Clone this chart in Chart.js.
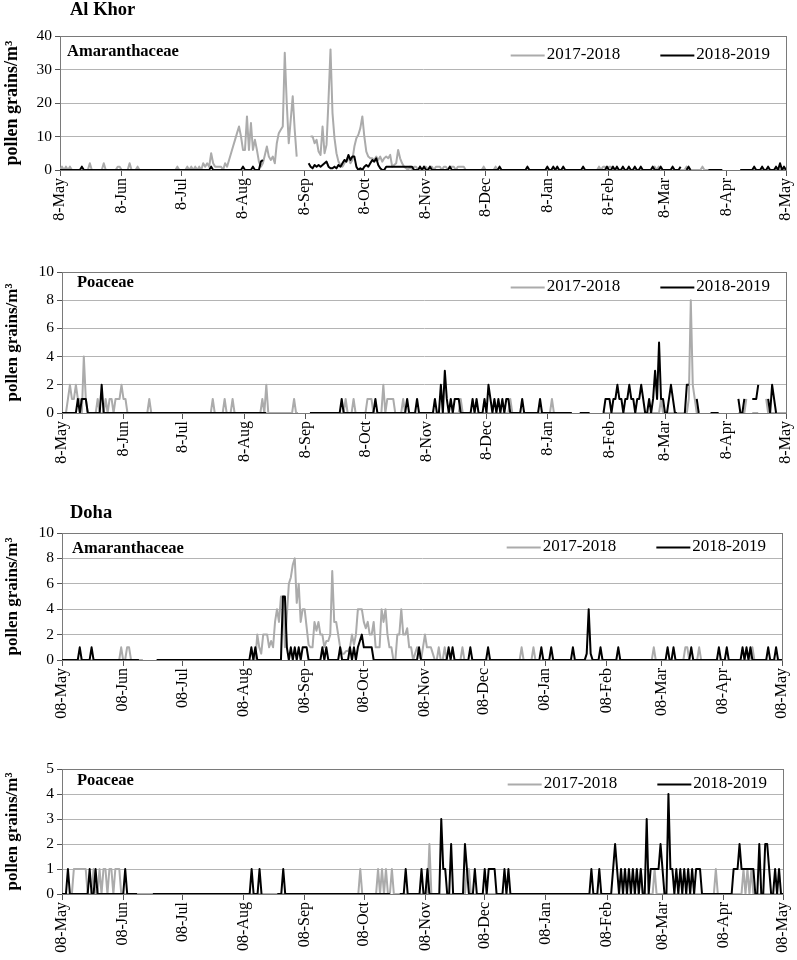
<!DOCTYPE html>
<html>
<head>
<meta charset="utf-8">
<script src="https://cdn.jsdelivr.net/npm/chart.js@4.4.1/dist/chart.umd.min.js"></script>
<style>
  body { margin: 0; background: #fff; }
  #wrap { position: relative; width: 797px; height: 960px; }
  canvas { position: absolute; left: 0; }
</style>
</head>
<body>
<div id="wrap">
  <canvas id="akAma" width="797" height="232" style="top:0px"></canvas>
  <canvas id="akPoa" width="797" height="240" style="top:230px"></canvas>
  <canvas id="dhAma" width="797" height="252" style="top:470px"></canvas>
  <canvas id="dhPoa" width="797" height="250" style="top:710px"></canvas>
</div>
<script>
// daily counts, day 0 = 8 May, day 365 = 8 May of the next year
const DAYS = 366;
const tickDays = [0, 31, 61, 92, 123, 153, 184, 214, 245, 276, 304, 335, 365];
const tickMonths = ["May", "Jun", "Jul", "Aug", "Sep", "Oct", "Nov", "Dec", "Jan", "Feb", "Mar", "Apr", "May"];
const seasons = ["2017-2018", "2018-2019"];

// runs: [firstDay, value, value, ...]; days not listed are 0; gaps: [fromDay, toDay] with no sample

// Al Khor - Amaranthaceae
const akAma17 = [[1, 1], [3, 1], [5, 1], [15, 2], [22, 2], [29, 1, 1], [35, 2], [39, 1], [59, 1],
  [64, 1, 0, 1, 0, 1, 0, 1, 0, 2, 1, 2, 1, 5, 2, 1, 1, 1, 1, 0, 2, 1, 3, 5, 7, 9, 11, 13, 10, 6, 6, 16, 6, 14, 6, 9, 6, 2.5, 1, 2, 4.5, 7, 4, 3, 4, 2, 8, 11, 12, 13, 35, 20, 8, 15, 22, 12, 4],
  [126, 10, 10, 8, 9, 5.5, 4.5, 13, 5, 7.5, 21, 36, 17, 9.5, 5, 2.5, 1.5, 1, 2, 3, 4, 2, 3, 7, 9.5, 10.5, 12.5, 16, 10, 5.5, 4, 3.5, 3.5, 3, 4, 3, 4, 2.5, 3.5, 4, 3.5, 4.5, 1, 1.5, 2, 6, 3.5, 2, 1, 0.5],
  [176, 1, 0, 1, 1, 0, 1, 0, 1, 1, 0, 1, 1, 0, 1, 1, 1, 0, 1, 1, 0, 1, 1, 1, 0, 1, 1, 1, 1, 0],
  [213, 1], [219, 1], [271, 1, 0, 1, 1, 0, 1, 1], [299, 1, 0, 1], [315, 1], [323, 1]];
const akAma17Gaps = [[120, 125], [330, 341]];
const akAma18 = [[11, 1], [76, 1], [92, 1], [97, 1], [101, 2.5, 3],
  [125, 2, 1, 0.5, 1.5, 1, 1.5, 1, 1.5, 2, 2.5, 1, 0.5, 0.5, 1, 0.5, 1.5, 1, 2, 3, 2.5, 4.5, 3, 4, 4, 1, 0, 0.5, 0, 1, 1.5, 1, 2, 3, 2.5, 3.5, 1.5, 0.5],
  [164, 1, 1, 1, 1, 1, 1, 1, 1, 1, 1, 1, 1, 1, 1],
  [181, 1], [183, 1], [186, 1], [196, 1], [221, 1], [235, 1], [245, 1], [248, 1], [250, 1], [253, 1], [263, 1],
  [275, 1], [278, 1], [280, 1], [283, 1], [286, 1], [289, 1], [292, 1], [298, 1], [302, 1], [308, 1], [312, 1], [316, 1],
  [349, 1], [353, 1], [356, 1], [360, 1], [362, 2], [364, 1]];
const akAma18Gaps = [[103, 124], [313, 314], [318, 321], [323, 325], [334, 341]];

// Al Khor - Poaceae
const akPoa17 = [[3, 1, 2, 1, 1, 2, 1, 1, 0, 4, 1], [18, 1], [22, 1, 0, 1, 1, 0, 1, 1, 1, 2, 1, 1], [44, 1], [76, 1], [82, 1], [86, 1],
  [101, 1, 0, 2], [117, 1], [143, 1], [147, 1], [154, 1, 1, 1], [162, 2], [164, 1, 1, 1, 1], [172, 1], [201, 1], [226, 1], [247, 1],
  [302, 1], [316, 1, 8, 2, 1], [345, 1], [355, 1]];
const akPoa17Gaps = [[120, 125], [258, 272], [322, 326], [332, 340], [346, 347], [352, 354]];
const akPoa18 = [[8, 1, 0, 1, 1, 1], [20, 2], [141, 1], [158, 1], [174, 1], [179, 1],
  [188, 1, 0, 0, 2, 0, 3, 1, 0, 1, 0, 1, 1, 1], [207, 1, 0, 1], [213, 1, 0, 2, 1, 0, 1, 0, 1, 0, 1, 0, 1, 1], [232, 1], [241, 1],
  [273, 0, 1, 1, 1, 0, 1, 1, 2, 1, 1, 0, 1, 1, 2, 1, 1, 0, 1, 1, 2, 1, 0, 0, 1, 0, 1, 3, 1, 5, 1, 1, 0, 0, 1, 2, 1, 0, 0],
  [314, 0, 2, 2], [320, 1], [341, 1, 0, 0, 1], [348, 1, 1, 1, 2], [356, 1, 0, 2, 1, 0]];
const akPoa18Gaps = [[104, 124], [258, 260], [267, 272], [311, 313], [317, 319], [322, 326], [332, 340], [345, 347], [352, 355], [361, 365]];

// Doha - Amaranthaceae
const dhAma17 = [[30, 1], [33, 1, 1],
  [99, 2, 1, 0.5, 2, 2, 2, 1, 1.5, 1, 3, 4, 3, 5, 5, 1, 3.5, 6, 6.5, 7.5, 8, 4.5, 6, 3, 4, 4, 2.6, 1.2, 1, 1, 3, 2.3, 3, 2, 2, 1, 1.5, 1.5, 2, 7, 3, 3, 2, 1, 0.5, 0.5, 0.7, 0.7, 1, 2, 1.2, 2, 4, 4, 4, 3, 2.5, 3, 2, 2, 3, 1, 1, 1, 4, 3, 4, 2, 1, 1, 0, 0, 2, 2, 4, 2, 2, 2.5, 1, 1, 0, 0.5, 1, 0.5, 0, 1, 2, 1, 1, 1, 0.5, 0, 0, 1, 0, 0, 1],
  [203, 1], [233, 1], [239, 1], [300, 1], [316, 1, 1], [323, 1], [350, 1]];
const dhAma17Gaps = [[42, 47]];
const dhAma18 = [[9, 1], [15, 1], [96, 1, 0, 1], [112, 5, 5, 1, 0, 1, 0, 1, 0, 1, 0, 1, 1, 1], [132, 1], [134, 1], [141, 1],
  [146, 1, 0, 1, 0, 1, 1.5, 2, 1, 1, 1, 1, 1], [181, 1], [196, 1], [198, 1], [207, 1], [216, 1], [243, 1], [248, 1], [259, 1],
  [266, 0.5, 4, 0.5], [273, 1], [282, 1], [307, 1], [310, 1], [319, 1], [333, 1], [337, 1], [345, 1], [347, 1], [349, 1], [358, 1], [362, 1]];
const dhAma18Gaps = [[40, 47]];

// Doha - Poaceae
const dhPoa17 = [[6, 1, 1, 1, 1, 1, 1, 1], [16, 1], [19, 1, 0, 1, 1, 0, 1, 1, 0, 1, 1, 1], [151, 1], [160, 1, 0, 1, 0, 1], [167, 1],
  [186, 2], [205, 1, 1], [293, 1], [300, 1], [331, 1], [345, 1, 0, 1, 0, 1]];
const dhPoa17Gaps = [];
const dhPoa18 = [[3, 1], [14, 1], [17, 1], [32, 1], [96, 1], [100, 1], [112, 1], [174, 1], [182, 1], [185, 1],
  [192, 3, 1, 1, 0, 0, 2], [204, 2, 1], [209, 1], [214, 1, 0, 1, 1, 1, 1], [224, 1, 0, 1], [268, 1], [272, 1],
  [279, 1, 2, 1, 0, 1, 0, 1, 0, 1, 0, 1, 0, 1, 0, 1, 0, 0, 3, 0, 1, 1, 1, 1, 1, 2, 1, 0, 0, 4, 1, 1, 0, 1, 0, 1, 0, 1, 0, 1, 0, 1, 0, 1, 1, 1, 0, 0],
  [340, 1, 1, 1, 2, 1, 1, 1, 1, 1, 1, 1, 0, 0, 2, 0, 0, 2, 2, 1, 0, 0, 1, 0, 1]];
const dhPoa18Gaps = [[39, 45], [102, 108], [167, 170]];

const GRAY = "#ababab";
const FONT = "'Liberation Serif', 'Times New Roman', serif";

function buildSeries(runs, gaps) {
  const vals = new Array(DAYS).fill(0);
  runs.forEach(r => r.slice(1).forEach((v, i) => { vals[r[0] + i] = v; }));
  gaps.forEach(([a, b]) => { for (let d = a; d <= b; d++) vals[d] = null; });
  return vals.map((v, d) => ({ x: d, y: v }));
}

// frame, site name, taxon name and in-plot legend
const panelDecor = {
  id: "panelDecor",
  beforeDatasetsDraw(chart) {
    const { ctx, chartArea: a } = chart;
    ctx.save();
    ctx.strokeStyle = "#7a7a7a";
    ctx.lineWidth = 1;
    ctx.strokeRect(Math.round(a.left) + 0.5, Math.round(a.top) + 0.5, Math.round(a.right - a.left), Math.round(a.bottom - a.top));
    ctx.restore();
  },
  afterDraw(chart, args, o) {
    const { ctx, chartArea: a } = chart;
    ctx.save();
    ctx.fillStyle = "#000";
    ctx.textBaseline = "middle";
    ctx.textAlign = "left";
    if (o.site) {
      ctx.font = "bold 18.5px " + FONT;
      ctx.fillText(o.site, 70, a.top - o.siteDy);
    }
    ctx.font = "bold 16.5px " + FONT;
    ctx.fillText(o.taxon, a.left + o.taxonDx, a.top + o.taxonDy);

    ctx.font = "17px " + FONT;
    const ly = a.top + o.legendDy;
    const colors = [GRAY, "#000"];
    let x = a.right - 16;
    for (let i = seasons.length - 1; i >= 0; i--) {
      const w = ctx.measureText(seasons[i]).width;
      x -= w;
      ctx.fillText(seasons[i], x, ly);
      ctx.strokeStyle = colors[i];
      ctx.lineWidth = 2;
      ctx.beginPath();
      ctx.moveTo(x - 2, ly + 0.5);
      ctx.lineTo(x - 36, ly + 0.5);
      ctx.stroke();
      x -= 36 + 40;
    }
    ctx.restore();
  }
};

function makePanel(id, p) {
  const canvas = document.getElementById(id);
  const H = canvas.height;
  return new Chart(canvas, {
    type: "line",
    data: {
      datasets: [
        { label: seasons[0], data: buildSeries(p.s17, p.g17), borderColor: GRAY, borderWidth: 2, order: 1 },
        { label: seasons[1], data: buildSeries(p.s18, p.g18), borderColor: "#000", borderWidth: 2, order: 0 },
      ],
    },
    options: {
      responsive: false,
      animation: false,
      devicePixelRatio: 1,
      parsing: false,
      spanGaps: false,
      elements: { point: { radius: 0 }, line: { tension: 0, borderJoinStyle: "round" } },
      layout: { padding: { top: p.top, left: 0, right: 797 - p.right, bottom: 0 } },
      plugins: {
        legend: { display: false },
        tooltip: { enabled: false },
        panelDecor: { site: p.site, siteDy: p.siteDy, taxon: p.taxon, taxonDx: p.taxonDx, taxonDy: p.taxonDy, legendDy: p.legendDy },
      },
      scales: {
        x: {
          type: "linear",
          min: 0,
          max: DAYS - 1,
          afterBuildTicks: s => { s.ticks = tickDays.map(v => ({ value: v })); },
          afterFit: s => { s.height = H - p.bottom; s.paddingLeft = 0; s.paddingRight = 0; },
          ticks: {
            autoSkip: false,
            minRotation: 90,
            maxRotation: 90,
            padding: 2,
            color: "#000",
            font: { family: FONT, size: 16 },
            callback: (v, i) => p.prefix + "-" + tickMonths[i],
          },
          grid: { drawOnChartArea: false, drawTicks: true, tickLength: 6, color: "#555" },
          border: { display: true, color: "#555", width: 1 },
        },
        y: {
          min: 0,
          max: p.yMax,
          afterFit: s => { s.width = p.left; },
          ticks: { stepSize: p.yStep, padding: 3, color: "#000", font: { family: FONT, size: 15.5 } },
          grid: { color: "#b4b4b4", lineWidth: 1, tickLength: 5, tickColor: "#555" },
          border: { display: true, color: "#555", width: 1 },
          title: {
            display: true,
            text: "pollen grains/m\u00b3",
            color: "#000",
            font: { family: FONT, size: p.titleSize, weight: "bold" },
            padding: { top: 2, bottom: 0 },
          },
        },
      },
    },
    plugins: [panelDecor],
  });
}

makePanel("akAma", { s17: akAma17, g17: akAma17Gaps, s18: akAma18, g18: akAma18Gaps, prefix: "8",
  top: 36, bottom: 170, left: 60, right: 786, yMax: 40, yStep: 10, titleSize: 18,
  site: "Al Khor", siteDy: 26, taxon: "Amaranthaceae", taxonDx: 7, taxonDy: 16, legendDy: 19 });
makePanel("akPoa", { s17: akPoa17, g17: akPoa17Gaps, s18: akPoa18, g18: akPoa18Gaps, prefix: "8",
  top: 42, bottom: 183, left: 62, right: 786, yMax: 10, yStep: 2, titleSize: 17,
  taxon: "Poaceae", taxonDx: 15, taxonDy: 11, legendDy: 15 });
makePanel("dhAma", { s17: dhAma17, g17: dhAma17Gaps, s18: dhAma18, g18: dhAma18Gaps, prefix: "08",
  top: 63, bottom: 190, left: 62, right: 782, yMax: 10, yStep: 2, titleSize: 17,
  site: "Doha", siteDy: 20, taxon: "Amaranthaceae", taxonDx: 10, taxonDy: 16, legendDy: 14 });
makePanel("dhPoa", { s17: dhPoa17, g17: dhPoa17Gaps, s18: dhPoa18, g18: dhPoa18Gaps, prefix: "08",
  top: 59, bottom: 184, left: 62, right: 783, yMax: 5, yStep: 1, titleSize: 17,
  taxon: "Poaceae", taxonDx: 15, taxonDy: 12, legendDy: 15 });
</script>
</body>
</html>
